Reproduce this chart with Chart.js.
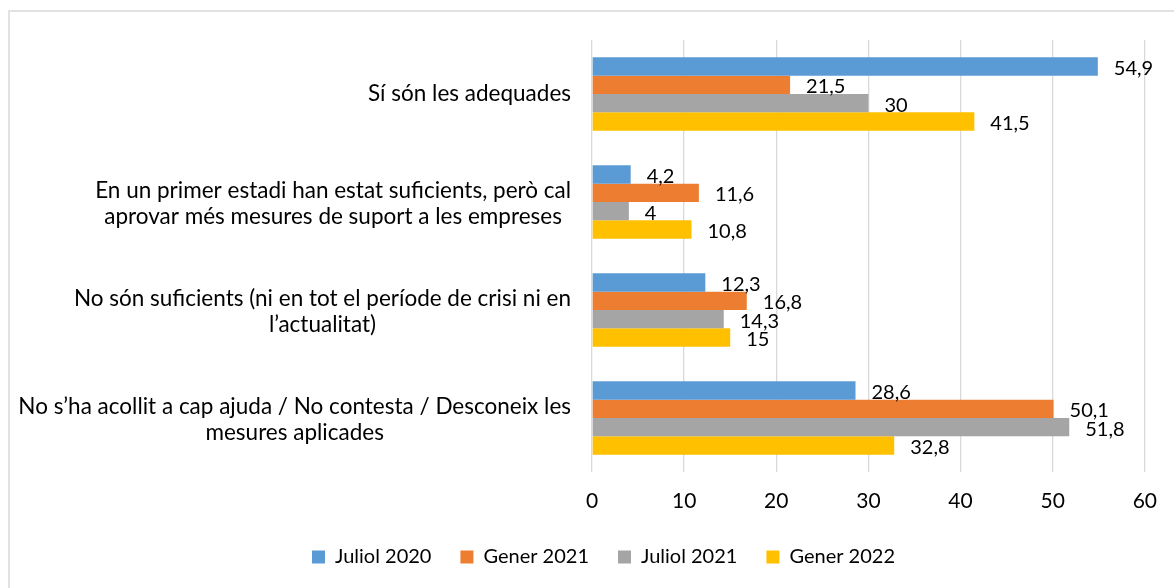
<!DOCTYPE html>
<html>
<head>
<meta charset="utf-8">
<script src="https://cdn.jsdelivr.net/npm/chart.js@4"></script>
<style>
  html, body { margin: 0; padding: 0; background: #fff; overflow: hidden; }
  .frame { position: absolute; left: 8px; top: 10px; width: 1200px; height: 600px; border: 2px solid #e2e2e2; box-sizing: border-box; }
  canvas { position: absolute; left: 0; top: 0; }
</style>
</head>
<body>
<div class="frame"></div>
<canvas id="chart" width="1174" height="588"></canvas>
<script>
const categories = [
    ['Sí són les adequades'],
    ['En un primer estadi han estat suficients, però cal', 'aprovar més mesures de suport a les empreses'],
    ['No són suficients (ni en tot el període de crisi ni en', 'l’actualitat)'],
    ['No s’ha acollit a cap ajuda / No contesta / Desconeix les', 'mesures aplicades']
];
const juliol2020 = [54.9, 4.2, 12.3, 28.6];
const gener2021 = [21.5, 11.6, 16.8, 50.1];
const juliol2021 = [30, 4, 14.3, 51.8];
const gener2022 = [41.5, 10.8, 15, 32.8];
const xTicks = [0, 10, 20, 30, 40, 50, 60];

const FONT = 'Lato, "Open Sans", sans-serif';

// value labels at the end of each bar, comma as decimal separator
const barLabels = {
    id: 'barLabels',
    afterDatasetsDraw(chart) {
        const ctx = chart.ctx;
        ctx.save();
        ctx.font = '20px ' + FONT;
        ctx.textBaseline = 'middle';
        ctx.fillStyle = '#000';
        chart.data.datasets.forEach((ds, i) => {
            chart.getDatasetMeta(i).data.forEach((bar, j) => {
                const txt = String(ds.data[j]).replace('.', ',');
                ctx.fillText(txt, bar.x + 16, bar.y + 2);
            });
        });
        ctx.restore();
    }
};

// category labels: block right-aligned to the axis, lines centred inside it
const catLabels = {
    id: 'catLabels',
    afterDraw(chart) {
        const ctx = chart.ctx;
        const y = chart.scales.y;
        ctx.save();
        ctx.font = '22.5px ' + FONT;
        ctx.fillStyle = '#000';
        ctx.textAlign = 'center';
        ctx.textBaseline = 'middle';
        const right = chart.chartArea.left - 21;
        const lh = 26;
        categories.forEach((lines, i) => {
            const w = Math.max(...lines.map(l => ctx.measureText(l).width));
            const cx = right - w / 2;
            const cy = y.getPixelForValue(i) + (lines.length > 1 ? 2 : 0);
            lines.forEach((l, k) => {
                ctx.fillText(l, cx, cy + (k - (lines.length - 1) / 2) * lh);
            });
        });
        ctx.restore();
    }
};

new Chart(document.getElementById('chart').getContext('2d'), {
    type: 'bar',
    data: {
        labels: categories.map(c => c.join(' ')),
        datasets: [
            { label: 'Juliol 2020', data: juliol2020, backgroundColor: '#5b9bd5' },
            { label: 'Gener 2021', data: gener2021, backgroundColor: '#ed7d31' },
            { label: 'Juliol 2021', data: juliol2021, backgroundColor: '#a5a5a5' },
            { label: 'Gener 2022', data: gener2022, backgroundColor: '#ffc000' }
        ]
    },
    options: {
        indexAxis: 'y',
        responsive: false,
        animation: false,
        layout: { padding: { left: 61, right: 28, top: 40, bottom: 11 } },
        datasets: { bar: { categoryPercentage: 0.68, barPercentage: 1.0 } },
        scales: {
            x: {
                min: 0,
                max: 60,
                afterBuildTicks: axis => { axis.ticks = xTicks.map(v => ({ value: v })); },
                afterFit: axis => { axis.height = 46; },
                grid: { color: '#d9d9d9', lineWidth: 1.3, drawTicks: false },
                border: { display: false },
                ticks: { color: '#000', font: { family: FONT, size: 21 }, padding: 17 }
            },
            y: {
                afterFit: axis => { axis.width = 531; },
                grid: { display: false },
                border: { display: false },
                ticks: { display: false }
            }
        },
        plugins: {
            legend: {
                position: 'bottom',
                labels: {
                    color: '#000',
                    font: { family: FONT, size: 20 },
                    boxWidth: 13,
                    boxHeight: 13,
                    padding: 29
                }
            },
            tooltip: { enabled: false }
        }
    },
    plugins: [barLabels, catLabels]
});
</script>
</body>
</html>
